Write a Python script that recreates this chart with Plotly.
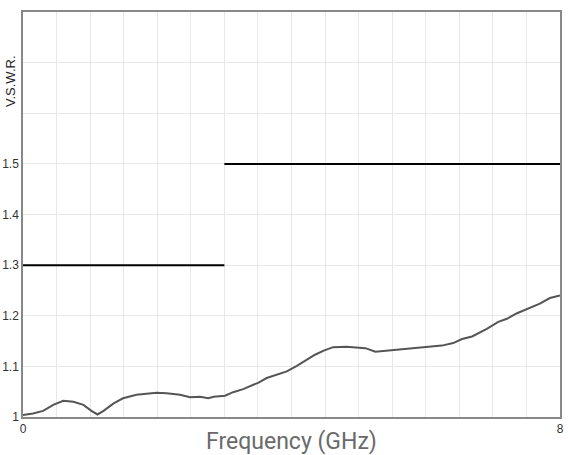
import plotly.graph_objects as go

freq = [0.0, 0.15, 0.30, 0.45, 0.60, 0.75, 0.90, 1.02, 1.11, 1.20, 1.35, 1.49, 1.69, 1.84,
        1.99, 2.14, 2.34, 2.49, 2.64, 2.76, 2.84, 3.01, 3.13, 3.28, 3.51, 3.63, 3.93, 4.08,
        4.23, 4.35, 4.48, 4.62, 4.82, 4.97, 5.10, 5.25, 5.42, 5.52, 5.82, 6.02, 6.24, 6.41,
        6.54, 6.69, 6.91, 7.08, 7.21, 7.36, 7.51, 7.70, 7.85, 8.00]
vswr = [1.004, 1.007, 1.012, 1.024, 1.032, 1.030, 1.024, 1.012, 1.005, 1.012, 1.027, 1.037,
        1.044, 1.046, 1.048, 1.047, 1.044, 1.039, 1.040, 1.037, 1.040, 1.042, 1.049, 1.055,
        1.068, 1.077, 1.090, 1.101, 1.113, 1.123, 1.131, 1.138, 1.139, 1.138, 1.136, 1.129,
        1.131, 1.133, 1.137, 1.139, 1.141, 1.146, 1.154, 1.159, 1.174, 1.188, 1.194, 1.205,
        1.213, 1.224, 1.235, 1.240]

limit_x1 = [0, 3]
limit_y1 = [1.3, 1.3]
limit_x2 = [3, 8]
limit_y2 = [1.5, 1.5]

x_grid = [i * 0.5 for i in range(17)]
x_labels = ["0"] + [""] * 15 + ["8"]
y_grid = [1.0, 1.1, 1.2, 1.3, 1.4, 1.5, 1.6, 1.7, 1.8]
y_labels = ["1", "1.1", "1.2", "1.3", "1.4", "1.5", "", "", ""]

fig = go.Figure()
fig.add_trace(go.Scatter(x=freq, y=vswr, mode="lines",
                         line=dict(color="#555555", width=2), showlegend=False))
fig.add_trace(go.Scatter(x=limit_x1, y=limit_y1, mode="lines",
                         line=dict(color="#000000", width=2), showlegend=False))
fig.add_trace(go.Scatter(x=limit_x2, y=limit_y2, mode="lines",
                         line=dict(color="#000000", width=2), showlegend=False))

fig.update_layout(
    width=568, height=455,
    margin=dict(l=23, r=8, t=12, b=38, autoexpand=False),
    paper_bgcolor="white", plot_bgcolor="white",
    font=dict(family="Liberation Sans, Arial", size=12, color="#333333"),
    xaxis=dict(range=[0, 8], tickmode="array", tickvals=x_grid, ticktext=x_labels,
               showgrid=True, gridcolor="#e8e8e8", gridwidth=1, zeroline=False,
               showline=True, linecolor="#888888", linewidth=1.5, mirror=True,
               ticks="", automargin=False, tickfont=dict(size=12, color="#333333")),
    yaxis=dict(range=[1, 1.8], tickmode="array", tickvals=y_grid, ticktext=y_labels,
               showgrid=True, gridcolor="#e8e8e8", gridwidth=1, zeroline=False,
               showline=True, linecolor="#888888", linewidth=1.5, mirror=True,
               ticks="", automargin=False, tickfont=dict(size=12, color="#333333")),
    annotations=[
        dict(text="V.S.W.R.", xref="paper", yref="paper", x=-0.022, y=0.83,
             textangle=-90, showarrow=False, xanchor="center", yanchor="middle",
             font=dict(family="Liberation Sans, Arial", size=13, color="#222222")),
        dict(text="Frequency (GHz)", xref="paper", yref="paper", x=0.5, y=-0.061,
             showarrow=False, xanchor="center", yanchor="middle",
             font=dict(family="Roboto", size=23, color="#6a6a6a")),
    ],
)

fig.write_html(
    "out.html",
    config={"displayModeBar": False},
    post_script="document.body.style.margin='0';document.body.style.padding='0';",
)
